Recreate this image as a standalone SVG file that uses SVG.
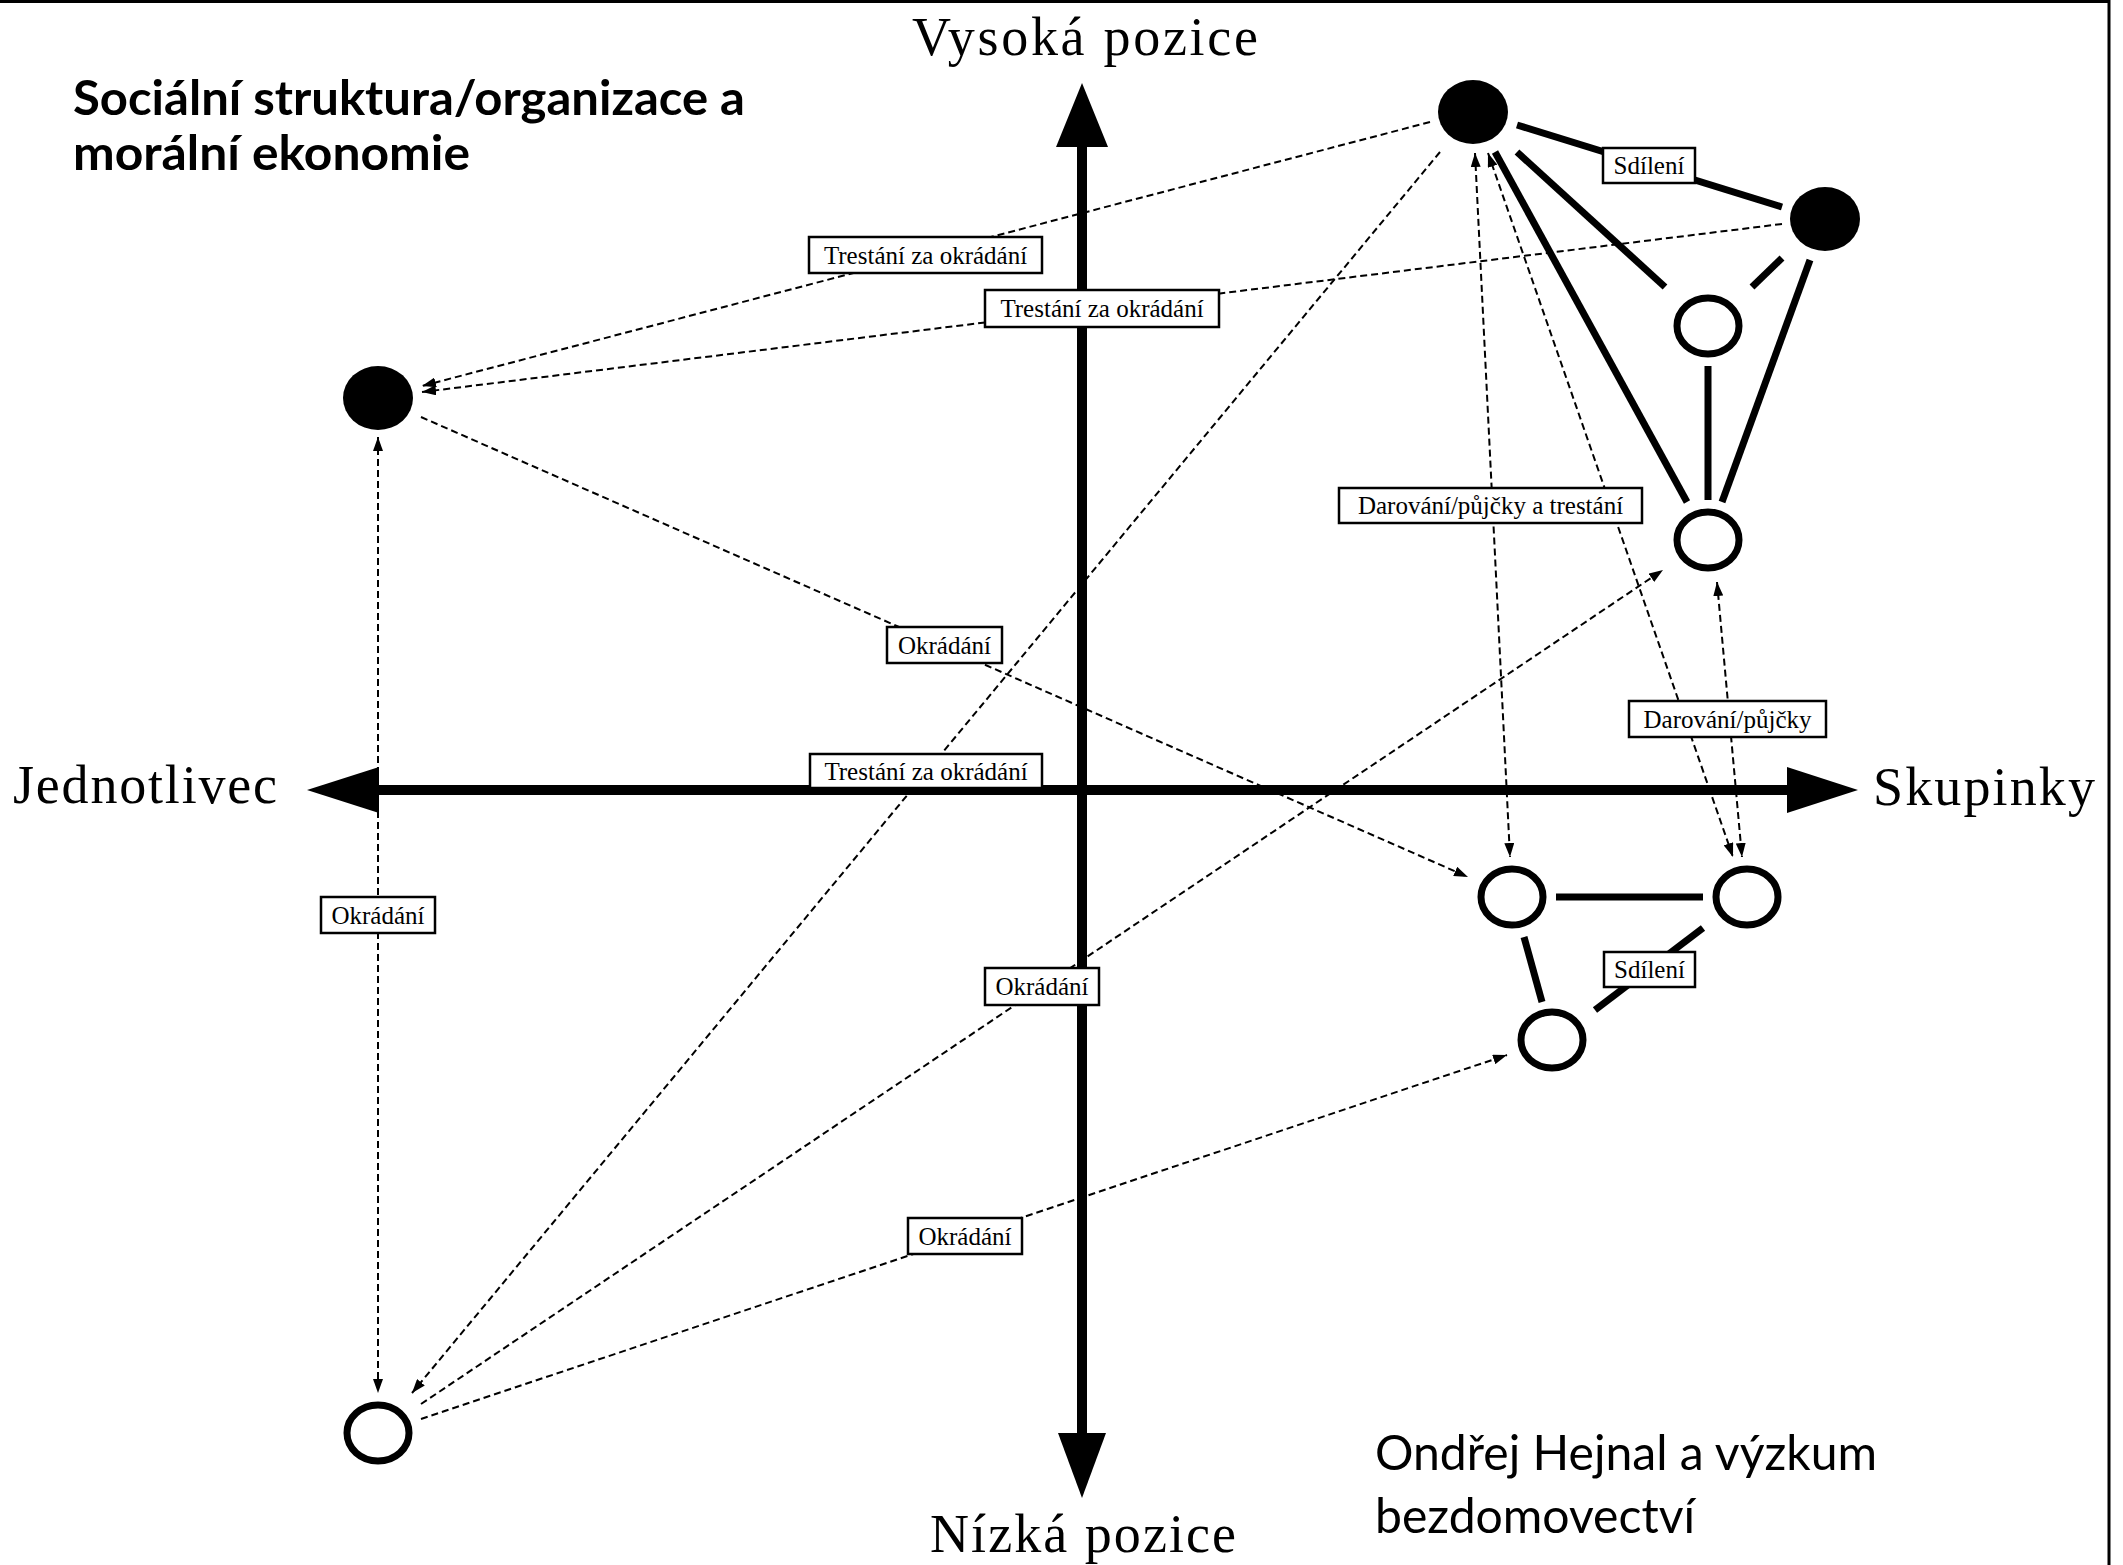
<svg xmlns="http://www.w3.org/2000/svg" width="2123" height="1565" viewBox="0 0 2123 1565">
<defs>
<style>
.bg{fill:#fff}
.frame{stroke:#000;stroke-width:3;fill:none}
.axis{stroke:#000;stroke-width:10;fill:none}
.axhead{fill:#000}
.dash{stroke:#000;stroke-width:2;stroke-dasharray:7 4;fill:none}
.thick{stroke:#000;stroke-width:7;fill:none}
.filled{fill:#000}
.open{fill:#fff;stroke:#000;stroke-width:7}
.lbox{fill:#fff;stroke:#000;stroke-width:2.5}
.ltext{font-family:"Liberation Serif","Times New Roman",serif;font-size:25px;fill:#000;text-anchor:middle}
.axlabel{font-family:"Liberation Serif","Times New Roman",serif;font-size:54px;fill:#000}
.title{font-family:Lato,"Open Sans",sans-serif;font-weight:bold;font-size:48px;fill:#000}
.credit{font-family:Lato,"Open Sans",sans-serif;font-size:48px;fill:#000}
</style>
<marker id="ah" viewBox="0 0 14 10" markerWidth="14" markerHeight="10" refX="14" refY="5" orient="auto-start-reverse" markerUnits="userSpaceOnUse">
<path d="M0,0 L14,5 L0,10 z" fill="#000"/>
</marker>
</defs>
<rect class="bg" x="0" y="0" width="2123" height="1565"/>
<g id="frame">
<line class="frame" x1="0" y1="1.5" x2="2110" y2="1.5"/>
<line class="frame" x1="2109" y1="0" x2="2109" y2="1565"/>
</g>
<g id="axes">
<line class="axis" x1="1082" y1="145" x2="1082" y2="1435"/>
<polygon class="axhead" points="1082,83 1056,147 1108,147"/>
<polygon class="axhead" points="1082,1498 1058,1433 1106,1433"/>
<line class="axis" x1="377" y1="790" x2="1789" y2="790"/>
<polygon class="axhead" points="307,790 379,767 379,813"/>
<polygon class="axhead" points="1858,790 1787,767 1787,813"/>
<text class="axlabel" x="13" y="803" textLength="264" lengthAdjust="spacing">Jednotlivec</text>
<text class="axlabel" x="1873" y="805" textLength="222" lengthAdjust="spacing">Skupinky</text>
<text class="axlabel" x="912" y="55" font-size="52" textLength="346" lengthAdjust="spacing">Vysoká pozice</text>
<text class="axlabel" x="930" y="1552" font-size="52" textLength="306" lengthAdjust="spacing">Nízká pozice</text>
</g>
<g id="connectors">
<line class="dash" x1="1430" y1="122" x2="422" y2="386" marker-end="url(#ah)"/>
<line class="dash" x1="1782" y1="224" x2="422" y2="392" marker-end="url(#ah)"/>
<line class="dash" x1="421" y1="417" x2="1468" y2="877" marker-end="url(#ah)"/>
<line class="dash" x1="1440" y1="152" x2="412" y2="1393" marker-end="url(#ah)"/>
<line class="dash" x1="378" y1="437" x2="378" y2="1393" marker-start="url(#ah)" marker-end="url(#ah)"/>
<line class="dash" x1="421" y1="1404" x2="1663" y2="570" marker-end="url(#ah)"/>
<line class="dash" x1="421" y1="1419" x2="1507" y2="1055" marker-end="url(#ah)"/>
<line class="dash" x1="1475" y1="153" x2="1510" y2="857" marker-start="url(#ah)" marker-end="url(#ah)"/>
<line class="dash" x1="1488" y1="153" x2="1733" y2="857" marker-start="url(#ah)" marker-end="url(#ah)"/>
<line class="dash" x1="1717" y1="582" x2="1742" y2="857" marker-start="url(#ah)" marker-end="url(#ah)"/>
<line class="thick" x1="1517" y1="125" x2="1782" y2="207"/>
<line class="thick" x1="1517" y1="152" x2="1665" y2="287"/>
<line class="thick" x1="1495" y1="152" x2="1687" y2="502"/>
<line class="thick" x1="1782" y1="258" x2="1752" y2="287"/>
<line class="thick" x1="1810" y1="260" x2="1722" y2="502"/>
<line class="thick" x1="1708" y1="366" x2="1708" y2="500"/>
<line class="thick" x1="1556" y1="897" x2="1703" y2="897"/>
<line class="thick" x1="1524" y1="937" x2="1542" y2="1002"/>
<line class="thick" x1="1703" y1="928" x2="1595" y2="1010"/>
</g>
<g id="labels">
<g id="lab-trest1"><rect class="lbox" x="809" y="237" width="233" height="36"/><text class="ltext" x="925.5" y="264">Trestání za okrádání</text></g>
<g id="lab-trest2"><rect class="lbox" x="985" y="290" width="234" height="37"/><text class="ltext" x="1102" y="317">Trestání za okrádání</text></g>
<g id="lab-okr1"><rect class="lbox" x="887" y="627" width="115" height="36"/><text class="ltext" x="944.5" y="654">Okrádání</text></g>
<g id="lab-trest3"><rect class="lbox" x="810" y="754" width="232" height="34"/><text class="ltext" x="926" y="780">Trestání za okrádání</text></g>
<g id="lab-okr2"><rect class="lbox" x="321" y="897" width="114" height="36"/><text class="ltext" x="378" y="924">Okrádání</text></g>
<g id="lab-okr3"><rect class="lbox" x="985" y="968" width="114" height="37"/><text class="ltext" x="1042" y="995">Okrádání</text></g>
<g id="lab-okr4"><rect class="lbox" x="908" y="1218" width="114" height="36"/><text class="ltext" x="965" y="1245">Okrádání</text></g>
<g id="lab-dar1"><rect class="lbox" x="1339" y="488" width="303" height="35"/><text class="ltext" x="1490.5" y="514">Darování/půjčky a trestání</text></g>
<g id="lab-dar2"><rect class="lbox" x="1629" y="701" width="197" height="36"/><text class="ltext" x="1727.5" y="728">Darování/půjčky</text></g>
<g id="lab-sdil1"><rect class="lbox" x="1603" y="148" width="92" height="35"/><text class="ltext" x="1649" y="174">Sdílení</text></g>
<g id="lab-sdil2"><rect class="lbox" x="1604" y="952" width="91" height="35"/><text class="ltext" x="1649.5" y="978">Sdílení</text></g>
</g>
<g id="node-high1"><ellipse class="filled" cx="1473" cy="112" rx="35" ry="32"/></g>
<g id="node-high2"><ellipse class="filled" cx="1825" cy="219" rx="35" ry="32"/></g>
<g id="node-group-upper"><ellipse class="open" cx="1708" cy="326" rx="31" ry="28"/></g>
<g id="node-group-lower"><ellipse class="open" cx="1708" cy="540" rx="31" ry="28"/></g>
<g id="node-indiv-high"><ellipse class="filled" cx="378" cy="398" rx="35" ry="32"/></g>
<g id="node-indiv-low"><ellipse class="open" cx="378" cy="1433" rx="31" ry="28"/></g>
<g id="node-a"><ellipse class="open" cx="1512" cy="897" rx="31" ry="28"/></g>
<g id="node-b"><ellipse class="open" cx="1747" cy="897" rx="31" ry="28"/></g>
<g id="node-c"><ellipse class="open" cx="1552" cy="1040" rx="31" ry="28"/></g>
<g id="title">
<text class="title" x="73" y="115" textLength="672" lengthAdjust="spacingAndGlyphs">Sociální struktura/organizace a</text>
<text class="title" x="73" y="170" textLength="397" lengthAdjust="spacingAndGlyphs">morální ekonomie</text>
</g>
<g id="credit">
<text class="credit" x="1375" y="1470" textLength="502" lengthAdjust="spacingAndGlyphs">Ondřej Hejnal a výzkum</text>
<text class="credit" x="1375" y="1533" textLength="320" lengthAdjust="spacingAndGlyphs">bezdomovectví</text>
</g>
</svg>
